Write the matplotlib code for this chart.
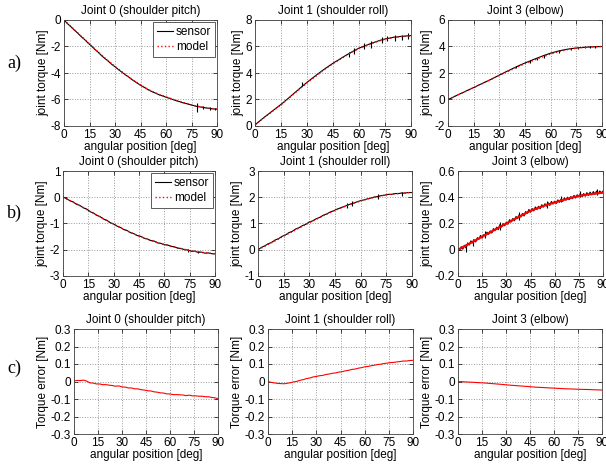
"""Joint torque: sensor vs model, three joints, three experiments."""

import matplotlib

matplotlib.use("Agg")
import matplotlib.pyplot as plt
import numpy as np

plt.rcParams["font.family"] = ["Liberation Sans", "DejaVu Sans"]
plt.rcParams["axes.unicode_minus"] = False

# ---- data ----
titles = ["Joint 0 (shoulder pitch)", "Joint 1 (shoulder roll)", "Joint 3 (elbow)"]
row_tags = ["a)", "b)", "c)"]

# model curves, sampled every 5 deg from 0 to 90
a0_model = [0, -0.6, -1.2, -1.8, -2.4, -2.97, -3.5, -4.0, -4.47, -4.9, -5.27, -5.57,
            -5.8, -6.02, -6.22, -6.4, -6.55, -6.65, -6.72]
a1_model = [0.1, 0.6, 1.1, 1.6, 2.15, 2.7, 3.25, 3.75, 4.25, 4.7, 5.1, 5.5, 5.85, 6.1,
            6.35, 6.55, 6.68, 6.76, 6.8]
a2_model = [0, 0.3, 0.6, 0.9, 1.2, 1.5, 1.82, 2.12, 2.42, 2.7, 2.95, 3.2, 3.43, 3.62,
            3.77, 3.87, 3.94, 3.98, 4.0]
b0_model = [0, -0.15, -0.32, -0.5, -0.68, -0.86, -1.03, -1.19, -1.34, -1.48, -1.6,
            -1.71, -1.8, -1.88, -1.96, -2.03, -2.08, -2.12, -2.15]
b1_model = [0, 0.17, 0.34, 0.52, 0.69, 0.86, 1.03, 1.19, 1.35, 1.5, 1.63, 1.75, 1.86,
            1.95, 2.03, 2.09, 2.13, 2.16, 2.18]
b2_model = [0, 0.033, 0.066, 0.1, 0.133, 0.167, 0.2, 0.233, 0.265, 0.297, 0.32, 0.342,
            0.36, 0.378, 0.395, 0.41, 0.42, 0.428, 0.435]

# sensor readings, every 2 deg (b2 every 1 deg)
a0_sensor = [0.0, -0.27, -0.5, -0.75, -0.98, -1.24, -1.46, -1.72, -1.95, -2.2, -2.42,
             -2.68, -2.9, -3.1, -3.34, -3.53, -3.74, -3.93, -4.13, -4.3, -4.5, -4.67,
             -4.84, -5.0, -5.14, -5.3, -5.42, -5.53, -5.65, -5.73, -5.83, -5.91, -6.0,
             -6.09, -6.16, -6.25, -6.31, -6.38, -6.45, -6.52, -6.56, -6.6, -6.64, -6.68,
             -6.71, -6.73]
a1_sensor = [0.08, 0.3, 0.52, 0.73, 0.92, 1.13, 1.33, 1.53, 1.74, 1.96, 2.18, 2.41, 2.63,
             2.86, 3.08, 3.29, 3.5, 3.7, 3.9, 4.1, 4.29, 4.47, 4.65, 4.82, 4.97, 5.14, 5.3,
             5.45, 5.6, 5.74, 5.88, 5.98, 6.08, 6.18, 6.28, 6.37, 6.46, 6.53, 6.6, 6.64,
             6.7, 6.72, 6.76, 6.78, 6.8, 6.82]
a2_sensor = [0.0, 0.11, 0.24, 0.37, 0.48, 0.6, 0.73, 0.84, 0.96, 1.09, 1.21, 1.33, 1.45,
             1.58, 1.71, 1.84, 1.97, 2.1, 2.22, 2.35, 2.47, 2.59, 2.7, 2.81, 2.91, 3.02,
             3.12, 3.22, 3.32, 3.41, 3.5, 3.57, 3.64, 3.7, 3.75, 3.8, 3.84, 3.87, 3.9, 3.92,
             3.94, 3.96, 3.97, 3.98, 3.99, 4.0]
b0_sensor = [0.01, -0.05, -0.13, -0.18, -0.27, -0.31, -0.4, -0.45, -0.55, -0.6, -0.69,
             -0.74, -0.83, -0.88, -0.97, -1.02, -1.1, -1.15, -1.23, -1.27, -1.35, -1.39,
             -1.46, -1.49, -1.56, -1.59, -1.65, -1.67, -1.74, -1.76, -1.81, -1.82, -1.87,
             -1.89, -1.94, -1.95, -2.0, -2.01, -2.06, -2.05, -2.1, -2.09, -2.13, -2.12,
             -2.15, -2.16]
b1_sensor = [0.0, 0.09, 0.15, 0.23, 0.28, 0.37, 0.42, 0.51, 0.56, 0.65, 0.7, 0.79, 0.84,
             0.92, 0.97, 1.06, 1.1, 1.18, 1.23, 1.31, 1.36, 1.43, 1.48, 1.54, 1.59, 1.64,
             1.69, 1.74, 1.78, 1.83, 1.87, 1.9, 1.94, 1.97, 2.01, 2.03, 2.06, 2.08, 2.11,
             2.11, 2.14, 2.14, 2.16, 2.16, 2.18, 2.18]
b2_sensor = [0.005, -0.005, 0.023, 0.005, 0.034, 0.013, 0.052, 0.036, 0.068, 0.052,
             0.076, 0.059, 0.092, 0.080, 0.109, 0.088, 0.115, 0.103, 0.134, 0.117,
             0.144, 0.127, 0.161, 0.146, 0.172, 0.153, 0.191, 0.172, 0.199, 0.182,
             0.210, 0.194, 0.229, 0.211, 0.238, 0.220, 0.253, 0.238, 0.267, 0.249,
             0.276, 0.257, 0.291, 0.277, 0.307, 0.286, 0.314, 0.296, 0.326, 0.306,
             0.331, 0.312, 0.343, 0.325, 0.351, 0.332, 0.358, 0.338, 0.368, 0.348,
             0.370, 0.352, 0.380, 0.362, 0.386, 0.368, 0.395, 0.377, 0.400, 0.381,
             0.405, 0.389, 0.414, 0.394, 0.419, 0.402, 0.426, 0.405, 0.428, 0.408,
             0.435, 0.415, 0.439, 0.419, 0.443, 0.423, 0.447, 0.427, 0.448, 0.431,
             0.447]

# short sensor glitches: angle, low, high
a0_glitch = ([78, 82, 86, 89], [-6.3, -6.5, -6.6, -6.65], [-6.96, -6.75, -6.8, -6.8])
a1_glitch = ([27, 54, 57, 63, 67, 73, 76, 81, 85, 88],
             [3.0, 5.2, 5.4, 5.8, 5.9, 6.3, 6.4, 6.45, 6.5, 6.55],
             [3.3, 5.6, 5.9, 6.3, 6.4, 6.7, 6.8, 6.9, 6.9, 7.0])
a2_glitch = ([40, 48, 52, 56, 65, 72, 76, 80, 83, 86],
             [2.35, 2.75, 2.95, 3.15, 3.5, 3.7, 3.78, 3.85, 3.88, 3.9],
             [2.55, 2.95, 3.15, 3.35, 3.7, 3.9, 3.98, 4.03, 4.05, 4.06])
b0_glitch = ([74, 80], [-2.08, -2.13], [-1.98, -2.03])
b1_glitch = ([52, 55, 70, 84], [1.6, 1.65, 1.95, 2.05], [1.78, 1.85, 2.12, 2.2])
b2_glitch = ([5, 9, 17, 26, 38, 55, 64, 76, 86],
             [-0.02, 0.03, 0.09, 0.15, 0.23, 0.32, 0.36, 0.4, 0.42],
             [0.04, 0.08, 0.14, 0.21, 0.29, 0.37, 0.41, 0.45, 0.465])

# torque error (sensor - model), every 2 deg
c0_err = [0.003, 0.006, 0.005, 0.008, 0.002, -0.008, -0.009, -0.014, -0.014, -0.018,
          -0.018, -0.021, -0.023, -0.027, -0.025, -0.031, -0.032, -0.037, -0.037, -0.042,
          -0.042, -0.047, -0.049, -0.053, -0.054, -0.059, -0.061, -0.065, -0.066, -0.071,
          -0.071, -0.075, -0.075, -0.076, -0.077, -0.081, -0.078, -0.082, -0.082, -0.084,
          -0.084, -0.087, -0.087, -0.091, -0.093, -0.098]
c1_err = [0.0, -0.005, -0.008, -0.011, -0.012, -0.013, -0.01, -0.007, -0.002, 0.001,
          0.007, 0.011, 0.017, 0.02, 0.026, 0.029, 0.033, 0.035, 0.04, 0.043, 0.047,
          0.049, 0.054, 0.056, 0.061, 0.064, 0.069, 0.071, 0.076, 0.079, 0.084, 0.086,
          0.09, 0.093, 0.097, 0.099, 0.103, 0.105, 0.108, 0.109, 0.112, 0.114, 0.117,
          0.117, 0.12, 0.121]
c2_err = [0, -0.001, -0.002, -0.003, -0.004, -0.005, -0.006, -0.007, -0.008, -0.0095,
          -0.011, -0.0125, -0.014, -0.0155, -0.017, -0.019, -0.0205, -0.022, -0.0235,
          -0.025, -0.026, -0.0275, -0.029, -0.0305, -0.032, -0.033, -0.034, -0.035,
          -0.036, -0.037, -0.038, -0.039, -0.04, -0.041, -0.042, -0.0425, -0.043, -0.044,
          -0.0445, -0.045, -0.0455, -0.046, -0.047, -0.0475, -0.048, -0.049]

models = [[a0_model, a1_model, a2_model], [b0_model, b1_model, b2_model]]
sensors = [[a0_sensor, a1_sensor, a2_sensor], [b0_sensor, b1_sensor, b2_sensor]]
glitches = [[a0_glitch, a1_glitch, a2_glitch], [b0_glitch, b1_glitch, b2_glitch]]
errors = [c0_err, c1_err, c2_err]
yticks = [
    [[-8, -6, -4, -2, 0], [0, 2, 4, 6, 8], [-2, 0, 2, 4, 6]],
    [[-3, -2, -1, 0, 1], [-1, 0, 1, 2, 3], [-0.2, 0, 0.2, 0.4, 0.6]],
]
err_ticks = [-0.3, -0.2, -0.1, 0, 0.1, 0.2, 0.3]

# axes boxes in pixels: left, right, top, bottom
W, H = 606, 465
boxes = [
    [(64, 217, 20, 126), (255, 411, 20, 126), (448, 602, 20, 126)],
    [(63, 215, 171, 276), (258, 412, 171, 276), (458, 603, 171, 276)],
    [(74, 218, 329, 434), (268, 413, 329, 434), (458, 602, 329, 434)],
]
tag_y = [63, 213, 368]

FS = 8.5
fig = plt.figure(figsize=(W / 100, H / 100), dpi=100)
fig.patch.set_facecolor("white")


def make_axes(box, ticks, ylabel, title):
    l, r, t, b = box
    ax = fig.add_axes([l / W, 1 - b / H, (r - l) / W, (b - t) / H])
    ax.set_xlim(0, 90)
    ax.set_xticks(np.arange(0, 91, 15))
    ax.set_ylim(ticks[0], ticks[-1])
    ax.set_yticks(ticks)
    ax.set_yticklabels([f"{v:g}" for v in ticks])
    ax.grid(True, linestyle=":", color="#9a9a9a", linewidth=0.7)
    ax.tick_params(direction="in", length=3, width=0.5, labelsize=FS, pad=2,
                   top=True, right=True)
    for s in ax.spines.values():
        s.set_linewidth(0.6)
        s.set_color("#404040")
    ax.set_xlabel("angular position [deg]", fontsize=FS, labelpad=0)
    ax.set_ylabel(ylabel, fontsize=FS, labelpad=1)
    ax.set_title(title, fontsize=FS, pad=4)
    return ax


for i in range(2):
    for j in range(3):
        ax = make_axes(boxes[i][j], yticks[i][j], "joint torque [Nm]", titles[j])
        m = np.array(models[i][j])
        s = np.array(sensors[i][j])
        ax.plot(np.linspace(0, 90, len(s)), s, color="black", linewidth=0.8)
        gx, glo, ghi = glitches[i][j]
        ax.vlines(gx, glo, ghi, color="black", linewidth=0.8)
        if i == 1 and j == 2:
            ax.plot(np.linspace(0, 90, len(m)), m, color="red", linewidth=1.6)
        else:
            ax.plot(np.linspace(0, 90, len(m)), m, color="red", linestyle=":",
                    linewidth=1.0)
        if j == 0:
            h1 = plt.Line2D([], [], color="black", linewidth=0.8)
            h2 = plt.Line2D([], [], color="red", linestyle=":", linewidth=1.0)
            leg = ax.legend([h1, h2], ["sensor", "model"], loc="upper right",
                            fontsize=FS, fancybox=False, framealpha=1,
                            borderaxespad=0.15, handlelength=1.3, handletextpad=0.25,
                            borderpad=0.35, labelspacing=0.25)
            leg.get_frame().set_edgecolor("#404040")
            leg.get_frame().set_linewidth(0.6)

for j in range(3):
    ax = make_axes(boxes[2][j], err_ticks, "Torque error [Nm]", titles[j])
    e = np.array(errors[j])
    ax.plot(np.linspace(0, 90, len(e)), e, color="red", linewidth=0.8)

for tag, y in zip(row_tags, tag_y):
    fig.text(14 / W, 1 - y / H, tag, fontsize=13, family="Liberation Serif",
             ha="center", va="center")

fig.savefig("out.png", dpi=100, facecolor="white")
